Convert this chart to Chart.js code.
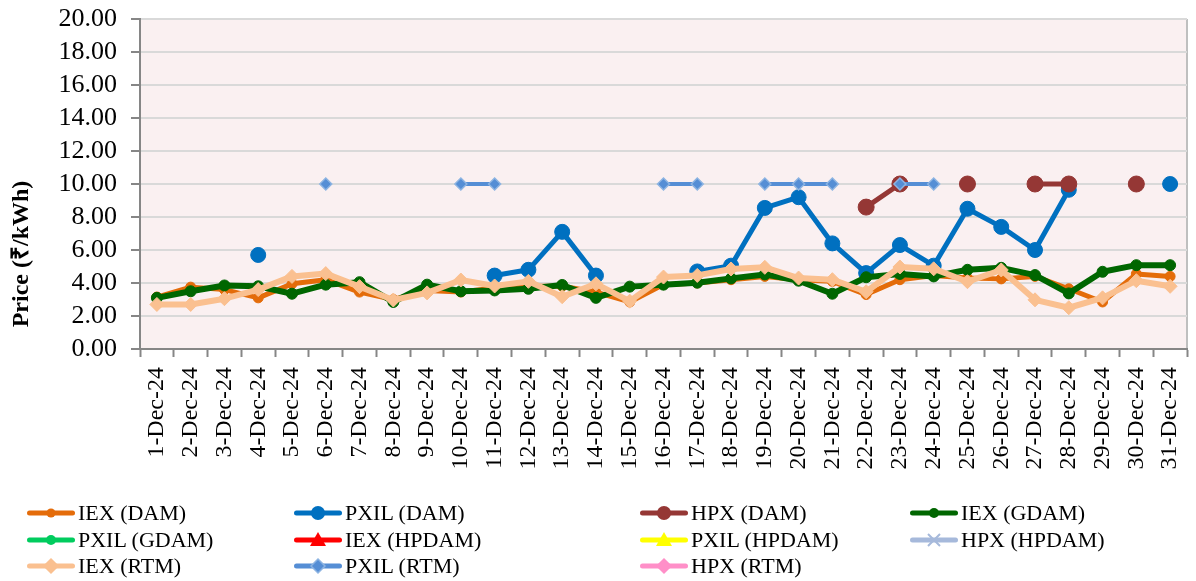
<!DOCTYPE html>
<html>
<head>
<meta charset="utf-8">
<script src="https://cdn.jsdelivr.net/npm/chart.js@4.4.1/dist/chart.umd.min.js"></script>
<style>
  body { margin: 0; background: #fff; }
  #wrap { position: relative; width: 1196px; height: 581px; }
  #legend { position: absolute; left: 0; top: 0; width: 1196px; height: 581px; pointer-events: none;
    font-family: 'Liberation Serif', 'Times New Roman', serif; font-size: 22px; color: #000; }
  .item { position: absolute; display: flex; align-items: center; height: 26px; white-space: nowrap; }
  .item svg { margin-right: 3px; flex: none; }
</style>
</head>
<body>
<div id="wrap">
  <canvas id="priceChart" width="1196" height="581"></canvas>
  <div id="legend"></div>
</div>
<script>
const days = ['1-Dec-24', '2-Dec-24', '3-Dec-24', '4-Dec-24', '5-Dec-24', '6-Dec-24', '7-Dec-24', '8-Dec-24',
  '9-Dec-24', '10-Dec-24', '11-Dec-24', '12-Dec-24', '13-Dec-24', '14-Dec-24', '15-Dec-24', '16-Dec-24',
  '17-Dec-24', '18-Dec-24', '19-Dec-24', '20-Dec-24', '21-Dec-24', '22-Dec-24', '23-Dec-24', '24-Dec-24',
  '25-Dec-24', '26-Dec-24', '27-Dec-24', '28-Dec-24', '29-Dec-24', '30-Dec-24', '31-Dec-24'];

const iexDam = [3.15, 3.75, 3.6, 3.1, 3.95, 4.2, 3.45, 3.0, 3.55, 3.45, 3.7, 3.8, 3.8, 3.45, 2.85, 3.9,
  4.0, 4.2, 4.4, 4.2, 4.1, 3.3, 4.2, 4.45, 4.3, 4.25, 4.4, 3.65, 2.85, 4.55, 4.4];
const pxilDam = [null, null, null, 5.7, null, null, null, null, null, null, 4.45, 4.8, 7.1, 4.45, null, null,
  4.7, 5.05, 8.55, 9.2, 6.4, 4.6, 6.3, 5.05, 8.5, 7.4, 6.0, 9.65, null, null, 10.0];
const hpxDam = [null, null, null, null, null, null, null, null, null, null, null, null, null, null, null, null,
  null, null, null, null, null, 8.6, 10.0, null, 10.0, null, 10.0, 10.0, null, 10.0, null];
const iexGdam = [3.1, 3.5, 3.85, 3.8, 3.35, 3.9, 4.05, 2.85, 3.9, 3.5, 3.55, 3.65, 3.88, 3.1, 3.78, 3.9,
  4.02, 4.28, 4.52, 4.14, 3.35, 4.35, 4.55, 4.4, 4.8, 4.92, 4.48, 3.37, 4.68, 5.08, 5.08];
const pxilGdam = [];
const iexHpdam = [];
const pxilHpdam = [];
const hpxHpdam = [];
const iexRtm = [2.7, 2.7, 3.05, 3.6, 4.4, 4.57, 3.78, 2.97, 3.4, 4.18, 3.82, 4.1, 3.17, 3.95, 2.9, 4.36,
  4.46, 4.85, 4.95, 4.3, 4.2, 3.47, 4.97, 4.86, 4.08, 4.79, 2.98, 2.5, 3.1, 4.14, 3.8];
const pxilRtm = [null, null, null, null, null, 10.0, null, null, null, 10.0, 10.0, null, null, null, null, 10.0,
  10.0, null, 10.0, 10.0, 10.0, null, 10.0, 10.0, null, null, null, null, null, null, null];
const hpxRtm = [];

const yTicks = ['0.00', '2.00', '4.00', '6.00', '8.00', '10.00', '12.00', '14.00', '16.00', '18.00', '20.00'];

const serif = "'Liberation Serif', 'Times New Roman', serif";

const seriesList = [
  { label: 'IEX (DAM)', data: iexDam, color: '#E46C0A', width: 5, style: 'circle', radius: 5, legendRadius: 4.5 },
  { label: 'PXIL (DAM)', data: pxilDam, color: '#0070C0', width: 5, style: 'circle', radius: 7.5, legendRadius: 7 },
  { label: 'HPX (DAM)', data: hpxDam, color: '#953735', width: 5, style: 'circle', radius: 8, legendRadius: 7 },
  { label: 'IEX (GDAM)', data: iexGdam, color: '#006600', width: 6, style: 'circle', radius: 5.5, legendRadius: 5 },
  { label: 'PXIL (GDAM)', data: pxilGdam, color: '#00CC5E', width: 5, style: 'circle', radius: 5, legendRadius: 5 },
  { label: 'IEX (HPDAM)', data: iexHpdam, color: '#FF0000', width: 5, style: 'triangle', radius: 7, legendRadius: 8 },
  { label: 'PXIL (HPDAM)', data: pxilHpdam, color: '#FFFF00', width: 5, style: 'triangle', radius: 7, legendRadius: 8 },
  { label: 'HPX (HPDAM)', data: hpxHpdam, color: '#A6B9DB', width: 5, style: 'cross', radius: 6, legendRadius: 6 },
  { label: 'IEX (RTM)', data: iexRtm, color: '#FAC090', width: 6, style: 'rectRot', radius: 7, legendRadius: 7 },
  { label: 'PXIL (RTM)', data: pxilRtm, color: '#558ED5', width: 4, style: 'rectRot', radius: 6, legendRadius: 7, pointBorder: '#8DB4E2' },
  { label: 'HPX (RTM)', data: hpxRtm, color: '#FF8FC8', width: 5, style: 'rectRot', radius: 6, legendRadius: 7 },
];

const legendCols = [27, 294, 640, 910];
const legendRows = [513, 540, 566];

const plotBackground = {
  id: 'plotBackground',
  beforeDraw(chart) {
    const { ctx, chartArea: a } = chart;
    ctx.save();
    ctx.fillStyle = '#FAF0F1';
    ctx.fillRect(a.left, a.top, a.right - a.left, a.bottom - a.top);
    ctx.strokeStyle = '#BFBFBF';
    ctx.lineWidth = 2;
    ctx.beginPath();
    ctx.moveTo(a.right, a.top);
    ctx.lineTo(a.right, a.bottom);
    ctx.stroke();
    ctx.restore();
  },
};

const axisTitle = {
  id: 'axisTitle',
  afterDraw(chart) {
    const { ctx } = chart;
    ctx.save();
    ctx.translate(22, 254);
    ctx.rotate(-Math.PI / 2);
    ctx.font = 'bold 24px ' + serif;
    ctx.fillStyle = '#000';
    ctx.textAlign = 'center';
    ctx.textBaseline = 'middle';
    ctx.fillText('Price (₹/kWh)', 0, 0);
    ctx.restore();
  },
};

const datasets = seriesList.map((s, i) => ({
  label: s.label,
  data: s.data,
  borderColor: s.color,
  backgroundColor: s.color,
  borderWidth: s.width,
  borderJoinStyle: 'round',
  borderCapStyle: 'round',
  pointStyle: s.style,
  pointRadius: s.radius,
  pointHoverRadius: s.radius,
  pointBackgroundColor: s.color,
  pointBorderColor: s.pointBorder || s.color,
  pointBorderWidth: s.pointBorder ? 1.5 : 1,
  tension: 0,
  spanGaps: false,
  order: 100 - i,
}));

new Chart(document.getElementById('priceChart'), {
  type: 'line',
  data: { labels: days, datasets },
  options: {
    responsive: false,
    animation: false,
    layout: { padding: { top: 19, right: 7, bottom: 100, left: 0 } },
    plugins: { legend: { display: false }, tooltip: { enabled: false } },
    scales: {
      x: {
        offset: true,
        // long tick slot so the labels sit below the short visible tick
        grid: {
          offset: true, drawOnChartArea: false, drawTicks: true, tickLength: 18,
          tickColor: '#868686', tickWidth: 2, tickBorderDash: [7, 100],
        },
        border: { color: '#868686', width: 2 },
        ticks: {
          autoSkip: false, minRotation: 90, maxRotation: 90, padding: 0,
          color: '#000', font: { family: serif, size: 24, lineHeight: 0.9 },
        },
        afterFit(scale) { scale.height = 132; },
      },
      y: {
        min: 0,
        max: 20,
        grid: {
          color: '#D9D9D9', lineWidth: 2, tickLength: 20,
          tickColor: '#868686', tickWidth: 2, tickBorderDash: [0, 11, 8, 100],
        },
        border: { color: '#868686', width: 2 },
        ticks: {
          autoSkip: false, stepSize: 2, padding: 3, color: '#000', font: { family: serif, size: 26 },
          callback: (value, index) => yTicks[index],
        },
        afterFit(scale) { scale.width = 140; },
      },
    },
  },
  plugins: [plotBackground, axisTitle],
});

function markerSvg(s) {
  const c = s.color;
  const cx = 24;
  const cy = 10;
  const r = s.legendRadius;
  let mark = '';
  if (s.style === 'circle') {
    mark = `<circle cx="${cx}" cy="${cy}" r="${r}" fill="${c}"/>`;
  } else if (s.style === 'triangle') {
    mark = `<polygon points="${cx},${cy - r} ${cx + r},${cy + r * 0.75} ${cx - r},${cy + r * 0.75}" fill="${c}"/>`;
  } else if (s.style === 'rectRot') {
    mark = `<polygon points="${cx},${cy - r} ${cx + r},${cy} ${cx},${cy + r} ${cx - r},${cy}" fill="${c}" stroke="${s.pointBorder || c}" stroke-width="1.5"/>`;
  } else if (s.style === 'cross') {
    mark = `<path d="M${cx - r} ${cy - r}L${cx + r} ${cy + r}M${cx + r} ${cy - r}L${cx - r} ${cy + r}" stroke="${c}" stroke-width="2"/>`;
  }
  return `<svg width="48" height="20"><line x1="2.5" y1="10" x2="45.5" y2="10" stroke="${c}" stroke-width="5" stroke-linecap="round"/>${mark}</svg>`;
}

const legendBox = document.getElementById('legend');
seriesList.forEach((s, i) => {
  const item = document.createElement('div');
  item.className = 'item';
  item.style.left = legendCols[i % 4] + 'px';
  item.style.top = (legendRows[Math.floor(i / 4)] - 13) + 'px';
  item.innerHTML = markerSvg(s) + '<span></span>';
  item.querySelector('span').textContent = s.label;
  legendBox.appendChild(item);
});
</script>
</body>
</html>
